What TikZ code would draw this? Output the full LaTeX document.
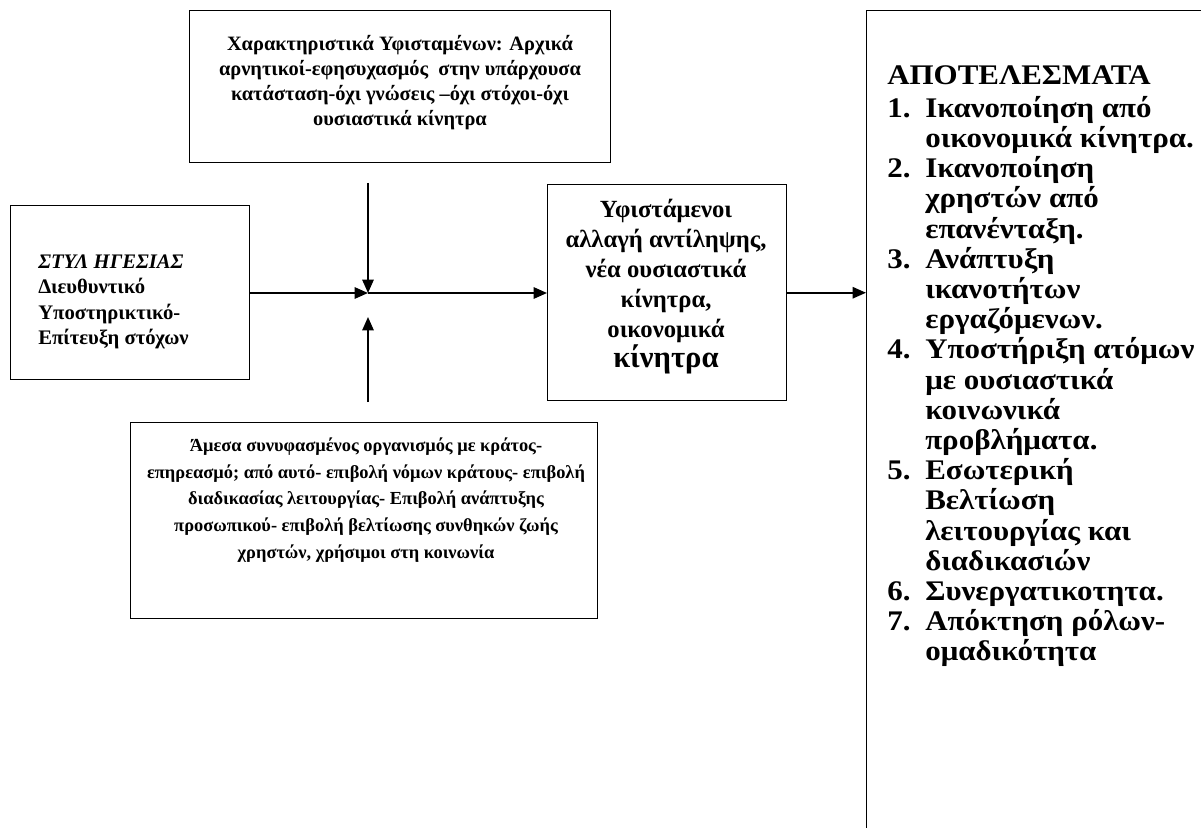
\documentclass[tikz,border=0pt]{standalone}
\usepackage{fontspec}
\setmainfont{Liberation Serif}
\newfontfamily\resfont[FakeStretch=1.09]{Liberation Serif Bold}
\usetikzlibrary{arrows.meta}
\newcommand{\itemnum}[1]{\makebox[28.5pt][l]{#1}}
\newcommand{\itemcont}{\hspace*{28.5pt}}
\newcommand{\tightlines}{\lineskiplimit=-20pt\relax\lineskip=0pt\relax}
\begin{document}
\begin{tikzpicture}[x=0.75pt,y=-0.75pt,
  box/.style={draw,line width=1.1pt,inner sep=0pt,anchor=north west},
  flow/.style={line width=1.3pt,-{Triangle[length=10pt,width=8.5pt]}},
  txt/.style={inner sep=0pt,font=\bfseries}]
\useasboundingbox (0,0) rectangle (1201,827);
\clip (0,0) rectangle (1201,827);

% boxes
\node[box,minimum width=315.75pt,minimum height=114pt] (top) at (189,10) {};
\node[box,minimum width=179.25pt,minimum height=130.5pt] (lead) at (10,205) {};
\node[box,minimum width=179.25pt,minimum height=162pt] (sub) at (547,184) {};
\node[box,minimum width=350.25pt,minimum height=147pt] (state) at (130,422) {};
\node[box,minimum width=270pt,minimum height=622.5pt] (res) at (866,10) {};

% texts
\node[txt,align=center,font=\bfseries\fontsize{15.3}{18.75}\selectfont] (toptxt) at (400,83)
  {Χαρακτηριστικά Υφισταμένων: Αρχικά\\
   αρνητικοί-εφησυχασμός\ \ στην υπάρχουσα\\
   κατάσταση-όχι γνώσεις –όχι στόχοι-όχι\\
   ουσιαστικά κίνητρα};
\node[txt,align=left,anchor=west,font=\bfseries\fontsize{15.5}{19}\selectfont] (leadtxt) at (38,302)
  {{\itshape ΣΤΥΛ ΗΓΕΣΙΑΣ}\\ Διευθυντικό\\ Υποστηρικτικό-\\ Επίτευξη στόχων};
\node[txt,align=center,font=\bfseries\fontsize{18.5}{22.5}\selectfont\tightlines] (subtxt) at (666,287)
  {Υφιστάμενοι\\ αλλαγή αντίληψης,\\ νέα ουσιαστικά\\ κίνητρα,\\ οικονομικά\\
   {\fontsize{23}{22.5}\selectfont κίνητρα}};
\node[txt,align=center,font=\bfseries\fontsize{13.8}{20}\selectfont] (statetxt) at (366,500)
  {Άμεσα συνυφασμένος οργανισμός με κράτος-\\
   επηρεασμό; από αυτό- επιβολή νόμων κράτους- επιβολή\\
   διαδικασίας λειτουργίας- Επιβολή ανάπτυξης\\
   προσωπικού- επιβολή βελτίωσης συνθηκών ζωής\\
   χρηστών, χρήσιμοι στη κοινωνία};
\node[txt,anchor=north west,align=left,
      font=\resfont\fontsize{21.3}{22.65}\selectfont\tightlines] (restxt) at (887,65)
  {ΑΠΟΤΕΛΕΣΜΑΤΑ\\[2.25pt]
   \itemnum{1.}Ικανοποίηση από\\
   \itemcont οικονομικά κίνητρα.\\
   \itemnum{2.}Ικανοποίηση\\
   \itemcont χρηστών από\\
   \itemcont επανένταξη.\\
   \itemnum{3.}Ανάπτυξη\\
   \itemcont ικανοτήτων\\
   \itemcont εργαζόμενων.\\
   \itemnum{4.}Υποστήριξη ατόμων\\
   \itemcont με ουσιαστικά\\
   \itemcont κοινωνικά\\
   \itemcont προβλήματα.\\
   \itemnum{5.}Εσωτερική\\
   \itemcont Βελτίωση\\
   \itemcont λειτουργίας και\\
   \itemcont διαδικασιών\\
   \itemnum{6.}Συνεργατικοτητα.\\
   \itemnum{7.}Απόκτηση ρόλων-\\
   \itemcont ομαδικότητα};

% connectors
\coordinate (j) at (368,293);
\coordinate (dn) at (368,183);
\coordinate (up) at (368,402);
\draw[flow] (lead.east |- j) -- (j);
\draw[flow] (dn) -- (j);
\draw[flow] (up) -- ([yshift=-18pt]j);
\draw[flow] (j) -- (sub.west |- j);
\draw[flow] (sub.east) -- (sub.east -| res.west);
\end{tikzpicture}
\end{document}
